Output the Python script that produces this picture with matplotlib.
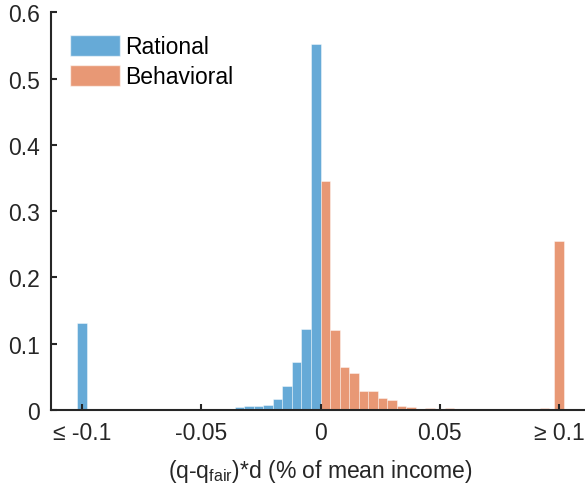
import matplotlib
matplotlib.use('Agg')
import matplotlib.pyplot as plt
from matplotlib.patches import Patch
import numpy as np

plt.rcParams['font.family'] = ['Liberation Sans', 'DejaVu Sans']
plt.rcParams['mathtext.fontset'] = 'custom'
plt.rcParams['mathtext.rm'] = 'Liberation Sans'
plt.rcParams['mathtext.it'] = 'Liberation Sans:italic'

# histogram data (bin width 0.004, left edges of inner bins)
bin_w = 0.004
rat_left = [-0.088, -0.068, -0.052, -0.036, -0.032, -0.028, -0.024, -0.020,
            -0.016, -0.012, -0.008, -0.004]
rat_vals = [0.0015, 0.001, 0.0015, 0.0045, 0.006, 0.006, 0.0075, 0.017,
            0.036, 0.072, 0.123, 0.553]
beh_left = [0.000, 0.004, 0.008, 0.012, 0.016, 0.020, 0.024, 0.028, 0.032,
            0.036, 0.040, 0.044, 0.048, 0.052, 0.056, 0.060, 0.064, 0.068,
            0.072, 0.076, 0.080, 0.084, 0.088, 0.092]
beh_vals = [0.345, 0.121, 0.065, 0.056, 0.029, 0.028, 0.018, 0.015, 0.0065,
            0.004, 0.0015, 0.003, 0.001, 0.003, 0.002, 0.002, 0.0005, 0.0005,
            0.002, 0.002, 0.0005, 0.002, 0.0005, 0.003]
# tail bins (values clipped at +-0.1)
rat_tail = 0.132
beh_tail = 0.2545

xticks = [-0.1, -0.05, 0, 0.05, 0.1]
xticklabels = ['\u2264 -0.1', '-0.05', '0', '0.05', '\u2265 0.1']
yticks = [0, 0.1, 0.2, 0.3, 0.4, 0.5, 0.6]
yticklabels = ['0', '0.1', '0.2', '0.3', '0.4', '0.5', '0.6']

blue = (0, 0.447, 0.741)
orange = (0.85, 0.325, 0.098)
edge = (1, 1, 1, 0.3)

fig = plt.figure(figsize=(5.85, 4.89), dpi=100)
ax = fig.add_axes([0.0872, 0.1595, 0.9214, 0.813])

ax.bar(rat_left, rat_vals, width=bin_w, align='edge', color=blue, alpha=0.6,
       edgecolor=edge, linewidth=0.5)
ax.bar([-0.1], [rat_tail], width=bin_w, align='center', color=blue, alpha=0.6,
       edgecolor=edge, linewidth=0.5)
ax.bar(beh_left, beh_vals, width=bin_w, align='edge', color=orange, alpha=0.6,
       edgecolor=edge, linewidth=0.5)
ax.bar([0.1], [beh_tail], width=bin_w, align='center', color=orange, alpha=0.6,
       edgecolor=edge, linewidth=0.5)

ax.set_xlim(-0.113, 0.113)
ax.set_ylim(0, 0.6)
ax.set_xticks(xticks)
ax.set_xticklabels(xticklabels)
ax.set_yticks(yticks)
ax.set_yticklabels(yticklabels)

ax.spines['top'].set_visible(False)
ax.spines['right'].set_visible(False)
for s in ['left', 'bottom']:
    ax.spines[s].set_linewidth(1.5)
    ax.spines[s].set_color('#262626')
ax.tick_params(direction='in', length=4.5, width=1.5, color='#262626',
               labelsize=16.5, labelcolor='#262626', pad=8)

ax.set_xlabel('(q-q$_{\\mathrm{fair}}$)*d (% of mean income)', fontsize=16.5,
              color='#262626', labelpad=9)

handles = [Patch(facecolor=blue, alpha=0.6, edgecolor=edge, label='Rational'),
           Patch(facecolor=orange, alpha=0.6, edgecolor=edge, label='Behavioral')]
ax.legend(handles=handles, loc='upper left', bbox_to_anchor=(0.035, 0.943),
          frameon=False, fontsize=16.5, handlelength=2.2, handleheight=1.0,
          handletextpad=0.2, labelspacing=0.3, borderpad=0, borderaxespad=0)

plt.savefig('out.png', dpi=100)
plt.close()
